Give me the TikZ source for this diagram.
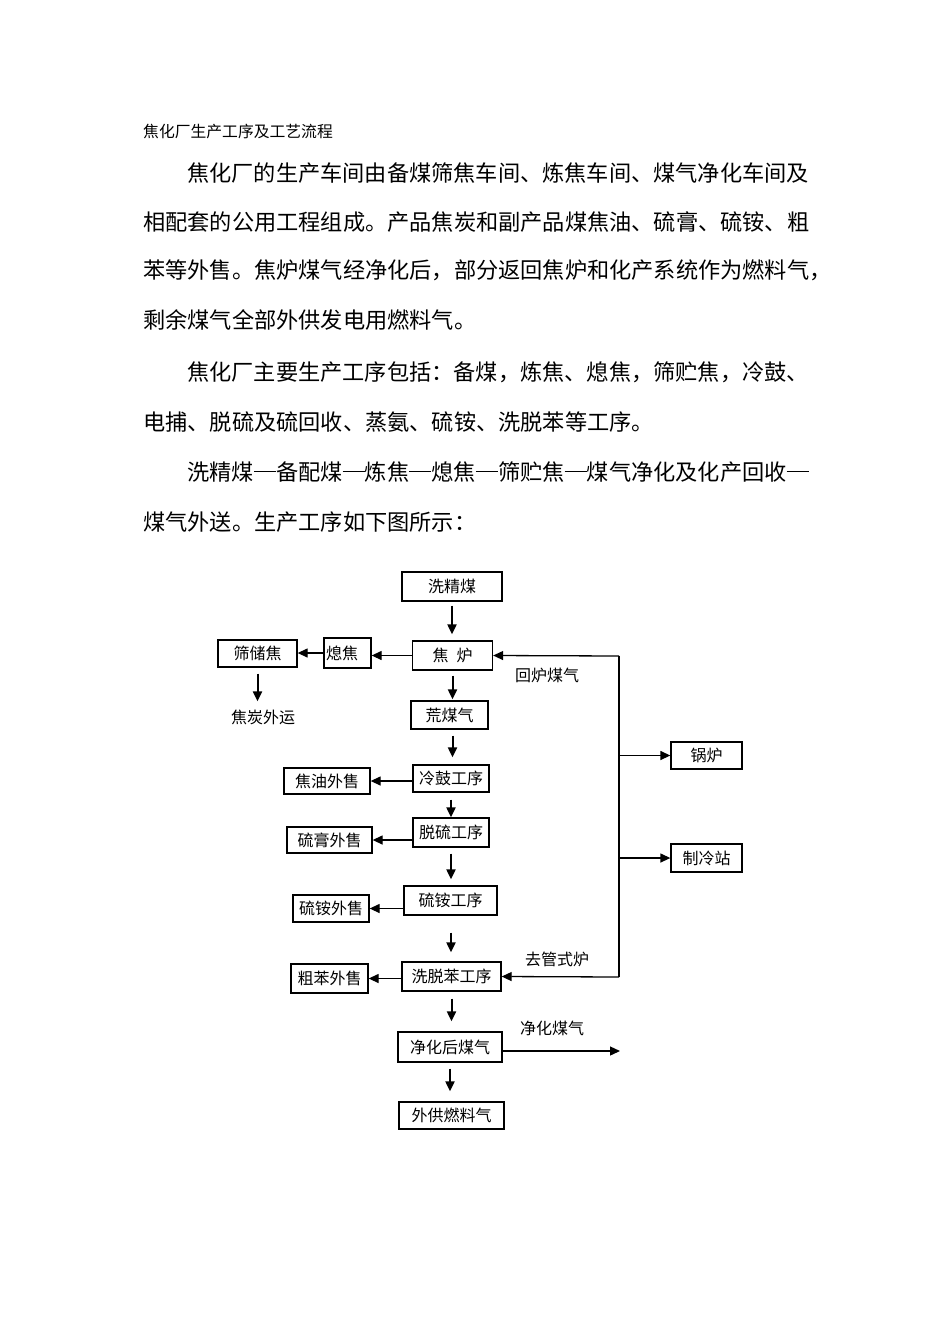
\documentclass[tikz,border=0pt]{standalone}
\usepackage{fontspec}
\setmainfont{Noto Sans CJK SC}
\usetikzlibrary{arrows.meta,positioning}
\newcommand{\cdash}{\rule[0.36em]{1em}{0.05em}}
\tikzset{
  box/.style={draw, line width=1.3pt, inner sep=0pt, font=\fontsize{16}{18}\selectfont},
  lbl/.style={inner sep=0pt, font=\fontsize{16}{18}\selectfont},
  para/.style={anchor=west, inner sep=0pt, font=\fontsize{22.2}{26}\selectfont},
  flow/.style={->, line width=2pt},
  side/.style={->, line width=1.3pt},
}
\begin{document}
\begin{tikzpicture}[x=1pt, y=-1pt, >={Triangle[length=10pt,width=9pt]}]
\useasboundingbox[fill=white] (0,0) rectangle (950,1344);

% text above the chart
\node[para, font=\fontsize{15.8}{18}\selectfont] (title) at (143,132) {焦化厂生产工序及工艺流程};
\node[para] (p1) at (187,173) {焦化厂的生产车间由备煤筛焦车间、炼焦车间、煤气净化车间及};
\node[para] (p2) at (143,222) {相配套的公用工程组成。产品焦炭和副产品煤焦油、硫膏、硫铵、粗};
\node[para] (p3) at (143,270) {苯等外售。焦炉煤气经净化后，部分返回焦炉和化产系统作为燃料气，};
\node[para] (p4) at (143,320) {剩余煤气全部外供发电用燃料气。};
\node[para] (p5) at (187,372) {焦化厂主要生产工序包括：备煤，炼焦、熄焦，筛贮焦，冷鼓、};
\node[para] (p6) at (143,422) {电捕、脱硫及硫回收、蒸氨、硫铵、洗脱苯等工序。};
\node[para] (p7) at (187,472) {洗精煤\cdash 备配煤\cdash 炼焦\cdash 熄焦\cdash 筛贮焦\cdash 煤气净化及化产回收\cdash};
\node[para] (p8) at (143,522) {煤气外送。生产工序如下图所示：};

% main column
\node[box, minimum width=100pt, minimum height=29pt] (jm) at (452,586.5) {洗精煤};
\node[box, minimum width=80pt, minimum height=29pt] (jl) at (452.5,655.5) {焦\hspace{0.5em}炉};
\node[box, minimum width=77pt, minimum height=28pt] (hmq) at (449.5,715) {荒煤气};
\node[box, minimum width=76pt, minimum height=27pt] (lg) at (451,778.5) {冷鼓工序};
\node[box, minimum width=76pt, minimum height=29pt] (tl) at (451,832.5) {脱硫工序};
\node[box, minimum width=93pt, minimum height=29pt] (la) at (450.5,900.5) {硫铵工序};
\node[box, minimum width=99pt, minimum height=29pt] (xtb) at (451.5,976.5) {洗脱苯工序};
\node[box, minimum width=104pt, minimum height=30pt] (jhh) at (450,1047) {净化后煤气};
\node[box, minimum width=105pt, minimum height=27pt] (wg) at (451.5,1115.5) {外供燃料气};

% left side
\node[box, minimum height=30pt, text width=43pt, align=left, inner xsep=2pt] (xj) at (347.5,653) {熄焦};
\node[box, minimum width=79pt, minimum height=27pt] (scj) at (257.5,653.5) {筛储焦};
\node[lbl] (jtwy) at (263,717) {焦炭外运};
\node[box, minimum width=86pt, minimum height=26pt] (jy) at (327,781) {焦油外售};
\node[box, minimum width=85pt, minimum height=26pt] (lgw) at (329.5,840) {硫膏外售};
\node[box, minimum width=76pt, minimum height=27pt] (law) at (331,908.5) {硫铵外售};
\node[box, minimum width=77pt, minimum height=29pt] (cb) at (329.5,978.5) {粗苯外售};

% right side
\node[box, minimum width=71pt, minimum height=27pt] (gl) at (706.5,755.5) {锅炉};
\node[box, minimum width=71pt, minimum height=28pt] (zl) at (706.5,858) {制冷站};
\node[lbl] (hlmq) at (547,675) {回炉煤气};
\node[lbl] (qgsl) at (557,959) {去管式炉};
\node[lbl] (jhmq) at (552,1028) {净化煤气};

\coordinate (rt) at (619,656);
\coordinate (rb) at (619,977);
\coordinate (gasout) at (620,1051);

% main flow
\draw[flow, shorten <=4pt, shorten >=6pt] (jm.south) -- (jm.south |- jl.north);
\draw[flow, shorten <=5pt, shorten >=1pt] (jl.south) -- (jl.south |- hmq.north);
\draw[flow, shorten <=6pt, shorten >=7pt] (jl.south |- hmq.south) -- (jl.south |- lg.north);
\draw[flow, shorten <=7pt] (lg.south) -- (lg.south |- tl.north);
\draw[flow, shorten <=6pt, shorten >=6pt] (tl.south) -- (tl.south |- la.north);
\draw[flow, shorten <=17pt, shorten >=9pt] (tl.south |- la.south) -- (tl.south |- xtb.north);
\draw[flow, shorten <=7pt, shorten >=10pt] (xtb.south) -- (xtb.south |- jhh.north);
\draw[flow, shorten <=6pt, shorten >=10pt] (jhh.south) -- (jhh.south |- wg.north);

% products
\draw[side] (jl.west) -- (jl.west -| xj.east);
\draw[side] (xj.west) -- (xj.west -| scj.east);
\draw[flow, shorten <=6pt, shorten >=8pt] (scj.south) -- (scj.south |- jtwy.north);
\draw[side] (lg.west |- jy) -- (jy.east);
\draw[side] (tl.west |- lgw) -- (lgw.east);
\draw[side] (la.west |- law) -- (law.east);
\draw[side] (xtb.west |- cb) -- (cb.east);

% gas return
\draw[line width=1.3pt] (rt) -- (rb);
\draw[side] (rt) -- (jl.east);
\draw[side] (rb) -- (xtb.east);
\draw[side] (rt |- gl.west) -- (gl.west);
\draw[side] (rt |- zl.west) -- (zl.west);
\draw[side] ([yshift=-4pt]jhh.east) -- (gasout);
\end{tikzpicture}
\end{document}
